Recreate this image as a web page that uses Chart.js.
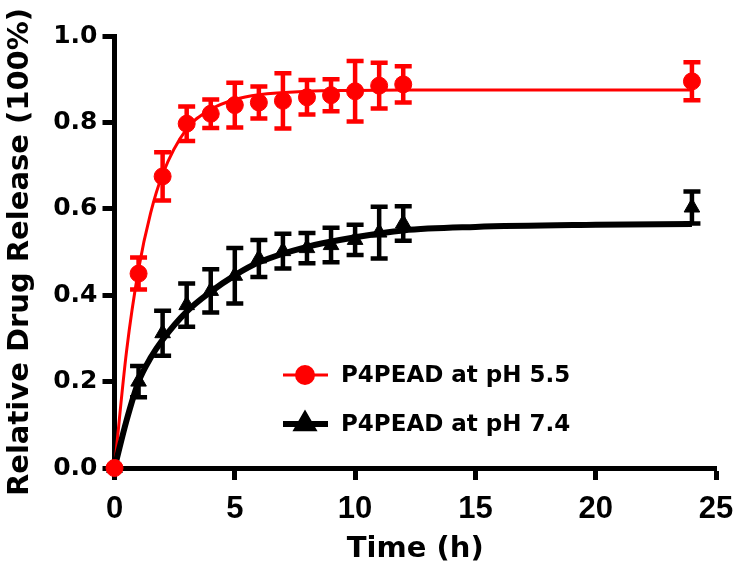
<!DOCTYPE html>
<html>
<head>
<meta charset="utf-8">
<script src="https://cdn.jsdelivr.net/npm/chart.js@4/dist/chart.umd.min.js"></script>
<style>
  body { margin: 0; background: #fff; }
  #releaseChart { display: block; }
</style>
</head>
<body>
<canvas id="releaseChart" width="737" height="571"></canvas>
<script>
// measured time points (h)
const times = [0, 1, 2, 3, 4, 5, 6, 7, 8, 9, 10, 11, 12, 24];

// pH 5.5
const acidMean = [0, 0.45, 0.675, 0.797, 0.82, 0.84, 0.846, 0.85, 0.858, 0.863, 0.872, 0.885, 0.888, 0.895];
const acidErr = [0, 0.037, 0.056, 0.04, 0.033, 0.052, 0.037, 0.064, 0.04, 0.037, 0.07, 0.053, 0.042, 0.044];

// pH 7.4
const neutralMean = [0, 0.2, 0.312, 0.377, 0.41, 0.445, 0.485, 0.502, 0.509, 0.516, 0.528, 0.545, 0.566, 0.603];
const neutralErr = [0, 0.036, 0.052, 0.05, 0.05, 0.064, 0.043, 0.04, 0.035, 0.04, 0.035, 0.06, 0.04, 0.037];

// fitted curves
const fitTimes = [0, 0.5, 1, 1.5, 2, 3, 4, 5, 6, 8, 10, 12, 15, 20, 24];
const acidFit = [0, 0.27, 0.46, 0.59, 0.68, 0.785, 0.83, 0.853, 0.864, 0.872, 0.874, 0.875, 0.875, 0.875, 0.875];
const neutralFit = [0, 0.11, 0.2, 0.255, 0.297, 0.362, 0.408, 0.446, 0.476, 0.512, 0.534, 0.55, 0.558, 0.563, 0.565];

const xTicks = [0, 5, 10, 15, 20, 25];
const yTicks = [0, 0.2, 0.4, 0.6, 0.8, 1.0];

const legendLabels = ['P4PEAD at pH 5.5', 'P4PEAD at pH 7.4'];

const RED = '#ff0000';
const BLACK = '#000000';

const toPoints = (xs, ys) => xs.map((x, i) => ({ x: x, y: ys[i] }));

const errorBars = {
  id: 'errorBars',
  beforeDatasetsDraw(chart) {
    const { ctx, scales: { x, y } } = chart;
    chart.data.datasets.forEach(ds => {
      if (!ds.errors) return;
      ctx.save();
      ctx.strokeStyle = ds.borderColor;
      ctx.lineWidth = 4.5;
      ds.data.forEach((p, i) => {
        const e = ds.errors[i];
        if (!e) return;
        const px = x.getPixelForValue(p.x);
        const top = y.getPixelForValue(p.y + e);
        const bot = y.getPixelForValue(p.y - e);
        ctx.beginPath();
        ctx.moveTo(px, top);
        ctx.lineTo(px, bot);
        ctx.moveTo(px - 8.5, top);
        ctx.lineTo(px + 8.5, top);
        ctx.moveTo(px - 8.5, bot);
        ctx.lineTo(px + 8.5, bot);
        ctx.stroke();
      });
      ctx.restore();
    });
  }
};

// legend sits inside the plot, so draw it by hand
const insideLegend = {
  id: 'insideLegend',
  afterDraw(chart) {
    const ctx = chart.ctx;
    const rows = [
      { y: 375, color: RED, width: 3, style: 'circle', label: legendLabels[0] },
      { y: 424, color: BLACK, width: 6, style: 'triangle', label: legendLabels[1] }
    ];
    ctx.save();
    rows.forEach(r => {
      ctx.strokeStyle = r.color;
      ctx.fillStyle = r.color;
      ctx.lineWidth = r.width;
      ctx.beginPath();
      ctx.moveTo(283, r.y);
      ctx.lineTo(328, r.y);
      ctx.stroke();
      Chart.helpers.drawPoint(ctx, { pointStyle: r.style, radius: 8.5, rotation: 0, borderWidth: 1 }, 305, r.y);
      ctx.fill();
      ctx.fillStyle = BLACK;
      ctx.font = 'bold 23px "DejaVu Sans"';
      ctx.textBaseline = 'middle';
      ctx.fillText(r.label, 341, r.y + 1);
    });
    ctx.restore();
  }
};

new Chart(document.getElementById('releaseChart'), {
  type: 'scatter',
  data: {
    datasets: [
      {
        label: legendLabels[0] + ' fit',
        data: toPoints(fitTimes, acidFit),
        showLine: true,
        borderColor: RED,
        borderWidth: 3,
        pointRadius: 0,
        cubicInterpolationMode: 'monotone',
        order: 4
      },
      {
        label: legendLabels[1] + ' fit',
        data: toPoints(fitTimes, neutralFit),
        showLine: true,
        borderColor: BLACK,
        borderWidth: 6,
        pointRadius: 0,
        cubicInterpolationMode: 'monotone',
        order: 3
      },
      {
        label: legendLabels[1],
        data: toPoints(times, neutralMean),
        errors: neutralErr,
        borderColor: BLACK,
        backgroundColor: BLACK,
        pointStyle: 'triangle',
        pointRadius: 9,
        borderWidth: 1,
        order: 2
      },
      {
        label: legendLabels[0],
        data: toPoints(times, acidMean),
        errors: acidErr,
        borderColor: RED,
        backgroundColor: RED,
        pointStyle: 'circle',
        pointRadius: 8.5,
        borderWidth: 1,
        order: 1
      }
    ]
  },
  options: {
    responsive: false,
    animation: false,
    clip: false,
    layout: { padding: { top: 36, right: 21, left: 0, bottom: 0 } },
    plugins: {
      legend: { display: false },
      tooltip: { enabled: false }
    },
    scales: {
      x: {
        type: 'linear',
        min: 0,
        max: 25,
        afterBuildTicks: s => { s.ticks = xTicks.map(v => ({ value: v })); },
        afterFit: s => { s.height = 103; s.paddingLeft = 0; s.paddingRight = 0; },
        border: { color: BLACK, width: 5 },
        grid: { display: true, drawOnChartArea: false, tickLength: 12, tickWidth: 5, tickColor: BLACK },
        ticks: {
          color: BLACK,
          padding: 11,
          maxRotation: 0,
          font: { family: '"Liberation Sans", Arial', weight: 'bold', size: 31 }
        },
        title: {
          display: true,
          text: 'Time (h)',
          color: BLACK,
          padding: { top: 0, bottom: 4 },
          font: { family: '"DejaVu Sans"', weight: 'bold', size: 29 }
        }
      },
      y: {
        min: 0,
        max: 1,
        afterBuildTicks: s => { s.ticks = yTicks.map(v => ({ value: v })); },
        afterFit: s => { s.width = 114.5; s.paddingTop = 0; s.paddingBottom = 0; },
        border: { color: BLACK, width: 5 },
        grid: { display: true, drawOnChartArea: false, tickLength: 12, tickWidth: 5, tickColor: BLACK },
        ticks: {
          color: BLACK,
          padding: 5,
          callback: v => v.toFixed(1),
          font: { family: '"DejaVu Sans"', weight: 'bold', size: 25 }
        },
        title: {
          display: true,
          text: 'Relative Drug Release (100%)',
          color: BLACK,
          padding: { top: 3, bottom: 0 },
          font: { family: '"DejaVu Sans"', weight: 'bold', size: 29 }
        }
      }
    }
  },
  plugins: [errorBars, insideLegend]
});
</script>
</body>
</html>
